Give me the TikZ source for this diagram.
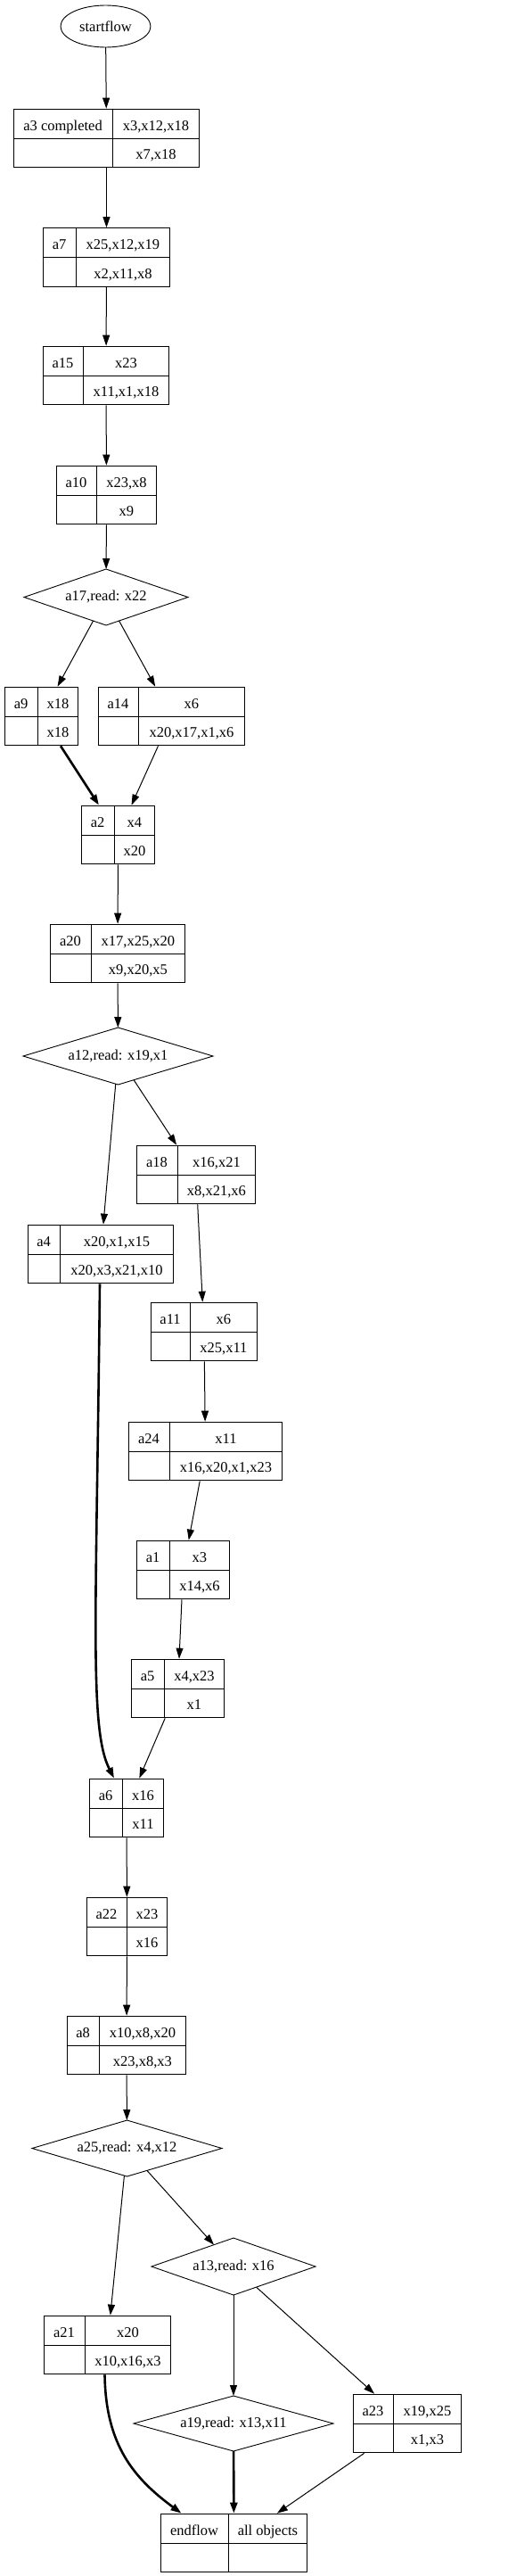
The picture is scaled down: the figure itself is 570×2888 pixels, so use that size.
\documentclass[tikz,border=0pt]{standalone}
\usepackage{fontspec}
\setmainfont{Liberation Serif}
\usepackage{array}
\usetikzlibrary{shapes.geometric,arrows.meta}

\setlength{\tabcolsep}{0pt}
\setlength{\arrayrulewidth}{0.9pt}
\newcommand{\rowstrut}{\rule[-8.5pt]{0pt}{32pt}}
% two-by-two record: left width, right width, four cells
\newcommand{\actrec}[6]{%
  \begin{tabular}{|wc{#1pt}|wc{#2pt}|}\hline
    \rowstrut#3 & #4\\\hline
    \rowstrut#5 & #6\\\hline
  \end{tabular}}

\begin{document}
\begin{tikzpicture}[
  x=1pt, y=-1pt,
  font=\fontsize{16.5}{20}\selectfont,
  actbox/.style={inner sep=0pt, outer sep=0pt},
  decision/.style={diamond, aspect=3.5, draw, line width=0.9pt, inner sep=0pt, outer sep=0pt},
  terminal/.style={ellipse, draw, line width=0.9pt, inner sep=0pt, outer sep=0pt},
  flow/.style={-{Triangle[length=12pt, width=8pt]}, line width=1pt},
  heavyflow/.style={flow, line width=2.6pt},
]
  \useasboundingbox (0,0) rectangle (570,2888);

  % nodes
  \node[terminal, minimum width=101pt, minimum height=47pt] (startflow) at (118.5,29.5) {startflow};
  \node[actbox] (a3) at (119.5,155) {\actrec{110}{97}{a3 completed}{x3,x12,x18}{}{x7,x18}};
  \node[actbox] (a7) at (119.5,288.5) {\actrec{36}{105}{a7}{x25,x12,x19}{}{x2,x11,x8}};
  \node[actbox] (a15) at (119,421) {\actrec{44}{96}{a15}{x23}{}{x11,x1,x18}};
  \node[actbox] (a10) at (119.5,555) {\actrec{44}{67}{a10}{x23,x8}{}{x9}};
  \node[decision, minimum width=184pt, minimum height=63pt] (a17) at (119,669.5) {a17,read: x22};
  \node[actbox] (a9) at (46.5,803) {\actrec{36}{45}{a9}{x18}{}{x18}};
  \node[actbox] (a14) at (192.5,803) {\actrec{44}{119}{a14}{x6}{}{x20,x17,x1,x6}};
  \node[actbox] (a2) at (132.5,936) {\actrec{36}{45}{a2}{x4}{}{x20}};
  \node[actbox] (a20) at (132,1069) {\actrec{45}{105}{a20}{x17,x25,x20}{}{x9,x20,x5}};
  \node[decision, minimum width=213pt, minimum height=64pt] (a12) at (132.5,1184) {a12,read: x19,x1};
  \node[actbox] (a18) at (220,1317) {\actrec{45}{87}{a18}{x16,x21}{}{x8,x21,x6}};
  \node[actbox] (a4) at (113,1406) {\actrec{35}{127}{a4}{x20,x1,x15}{}{x20,x3,x21,x10}};
  \node[actbox] (a11) at (229,1493) {\actrec{43}{75}{a11}{x6}{}{x25,x11}};
  \node[actbox] (a24) at (230.5,1627) {\actrec{45}{126}{a24}{x11}{}{x16,x20,x1,x23}};
  \node[actbox] (a1) at (205.5,1760) {\actrec{36}{67}{a1}{x3}{}{x14,x6}};
  \node[actbox] (a5) at (199.5,1893) {\actrec{36}{67}{a5}{x4,x23}{}{x1}};
  \node[actbox] (a6) at (142,2027) {\actrec{36}{46}{a6}{x16}{}{x11}};
  \node[actbox] (a22) at (142.5,2160) {\actrec{44}{45}{a22}{x23}{}{x16}};
  \node[actbox] (a8) at (142,2293) {\actrec{35}{97}{a8}{x10,x8,x20}{}{x23,x8,x3}};
  \node[decision, minimum width=213pt, minimum height=63pt] (a25) at (142.5,2408.5) {a25,read: x4,x12};
  \node[decision, minimum width=184pt, minimum height=64pt] (a13) at (262,2541) {a13,read: x16};
  \node[actbox] (a21) at (120.5,2629) {\actrec{45}{96}{a21}{x20}{}{x10,x16,x3}};
  \node[decision, minimum width=224pt, minimum height=62pt] (a19) at (262,2717) {a19,read: x13,x11};
  \node[actbox] (a23) at (457,2717) {\actrec{44}{76}{a23}{x19,x25}{}{x1,x3}};
  \node[actbox] (endflow) at (262.5,2851) {\actrec{75}{88}{endflow}{all objects}{}{}};

  % connectors
  \draw[flow] (startflow) -- (a3);
  \draw[flow] (a3) -- (a7);
  \draw[flow] (a7) -- (a15);
  \draw[flow] (a15) -- (a10);
  \draw[flow] (a10) -- (a17);
  \draw[flow] (a17) -- (a9);
  \draw[flow] (a17) -- (a14);
  \draw[heavyflow] (a9) -- (a2);
  \draw[flow] (a14) -- (a2);
  \draw[flow] (a2) -- (a20);
  \draw[flow] (a20) -- (a12);
  \draw[flow] (a12) -- (a4);
  \draw[flow] (a12) -- (a18);
  \draw[heavyflow] ([xshift=-1pt]a4.south) .. controls +(-4,380) and +(-28,-55) .. ([xshift=-14pt]a6.north);
  \draw[flow] (a18) -- (a11);
  \draw[flow] (a11) -- (a24);
  \draw[flow] (a24) -- (a1);
  \draw[flow] (a1) -- (a5);
  \draw[flow] (a5) -- (a6);
  \draw[flow] (a6) -- (a22);
  \draw[flow] (a22) -- (a8);
  \draw[flow] (a8) -- (a25);
  \draw[flow] (a25) -- (a21);
  \draw[flow] (a25) -- (a13);
  \draw[flow] (a13) -- (a19);
  \draw[flow] (a13) -- (a23);
  \draw[heavyflow] ([xshift=-3pt]a21.south) .. controls +(1,79) and +(-53,-39) .. ([xshift=-59pt]endflow.north);
  \draw[heavyflow] (a19) -- (endflow);
  \draw[flow] (a23) -- (endflow);
\end{tikzpicture}
\end{document}
